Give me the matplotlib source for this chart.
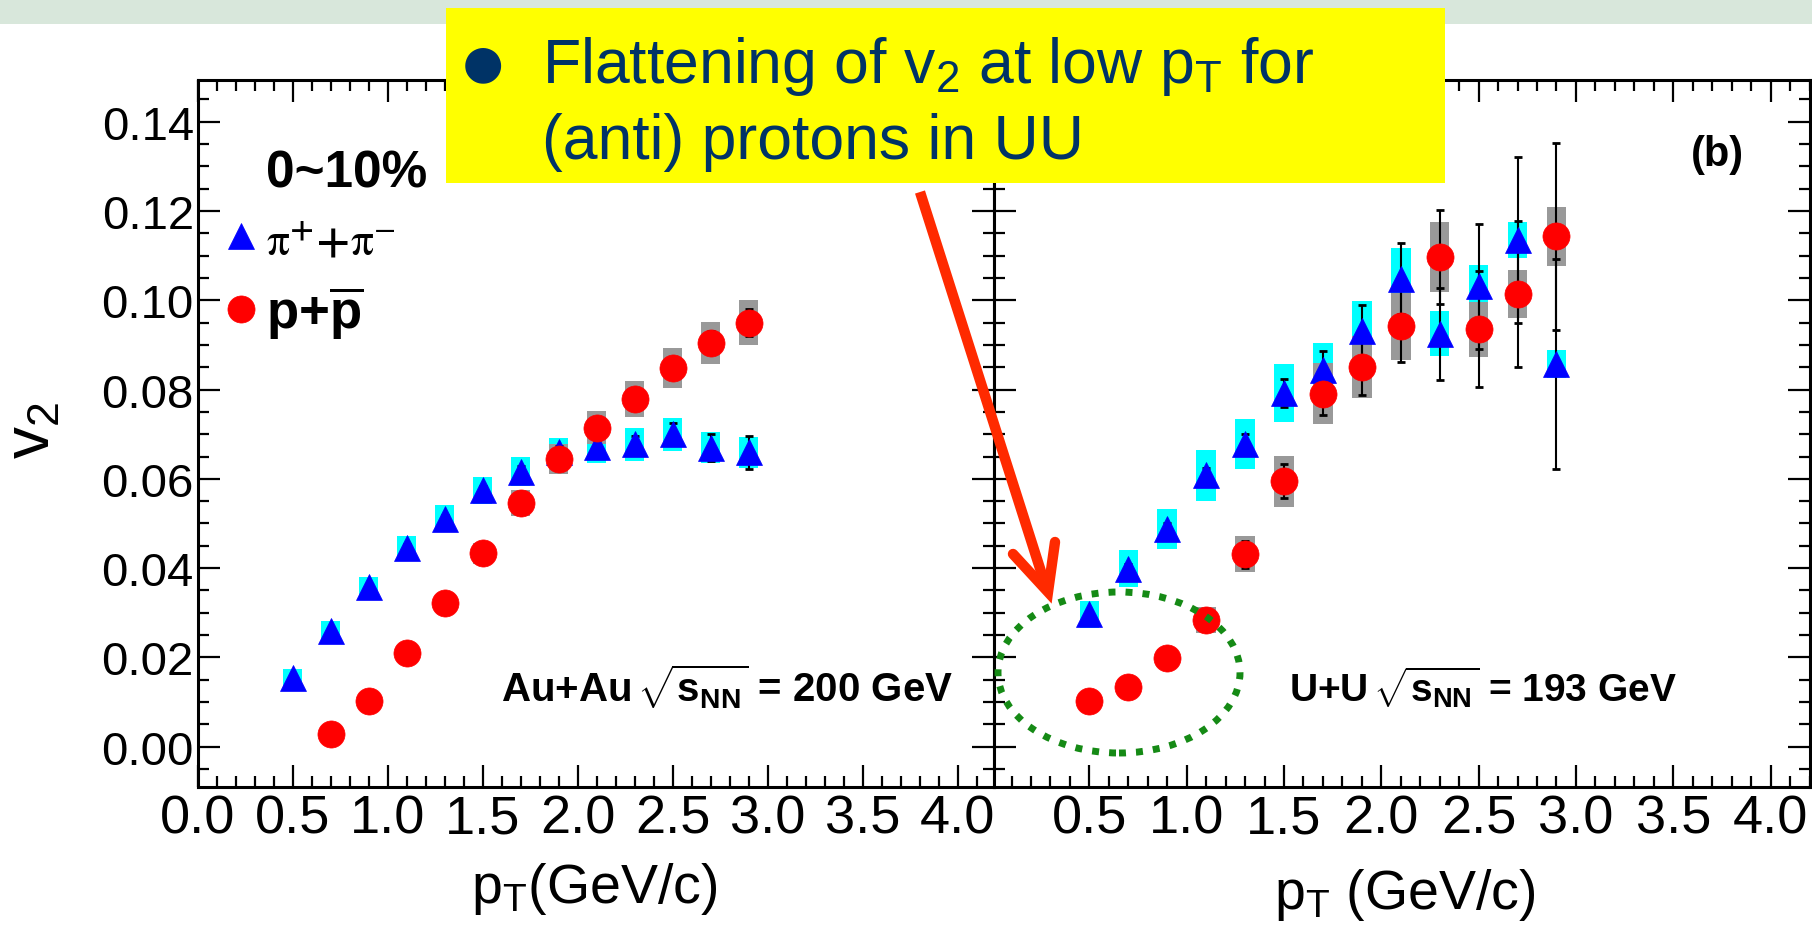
import matplotlib
matplotlib.use('Agg')
import matplotlib.pyplot as plt
from matplotlib.patches import Rectangle, Ellipse
from matplotlib.lines import Line2D
from matplotlib.ticker import MultipleLocator

# ---------------- data ----------------
# Au+Au 200 GeV, 0-10%
pt_au_pi = [0.5, 0.7, 0.9, 1.1, 1.3, 1.5, 1.7, 1.9, 2.1, 2.3, 2.5, 2.7, 2.9]
v2_au_pi = [0.0154, 0.0260, 0.0357, 0.0446, 0.0511, 0.0574, 0.0616, 0.0660, 0.0671, 0.0677, 0.0700, 0.0670, 0.0659]
stat_au_pi = [0.0005, 0.0006, 0.0007, 0.0008, 0.0009, 0.0010, 0.0012, 0.0014, 0.0017, 0.0020, 0.0024, 0.0030, 0.0037]
sys_au_pi = [0.0020, 0.0022, 0.0024, 0.0027, 0.0030, 0.0030, 0.0033, 0.0032, 0.0035, 0.0036, 0.0037, 0.0035, 0.0035]

pt_au_p = [0.7, 0.9, 1.1, 1.3, 1.5, 1.7, 1.9, 2.1, 2.3, 2.5, 2.7, 2.9]
v2_au_p = [0.0028, 0.0103, 0.0209, 0.0323, 0.0433, 0.0545, 0.0644, 0.0714, 0.0779, 0.0848, 0.0905, 0.0950]
stat_au_p = [0.0004, 0.0005, 0.0006, 0.0007, 0.0008, 0.0010, 0.0012, 0.0015, 0.0018, 0.0022, 0.0026, 0.0030]
sys_au_p = [0.0008, 0.0010, 0.0013, 0.0018, 0.0023, 0.0029, 0.0033, 0.0037, 0.0041, 0.0045, 0.0047, 0.0050]

# U+U 193 GeV, 0-10%
pt_uu_pi = [0.5, 0.7, 0.9, 1.1, 1.3, 1.5, 1.7, 1.9, 2.1, 2.3, 2.5, 2.7, 2.9]
v2_uu_pi = [0.0297, 0.0399, 0.0487, 0.0608, 0.0678, 0.0792, 0.0844, 0.0932, 0.1048, 0.0925, 0.1031, 0.1135, 0.0857]
stat_uu_pi = [0.0008, 0.0010, 0.0013, 0.0017, 0.0022, 0.0032, 0.0043, 0.0057, 0.0080, 0.0103, 0.0140, 0.0185, 0.0235]
sys_uu_pi = [0.0030, 0.0041, 0.0045, 0.0057, 0.0057, 0.0065, 0.0061, 0.0066, 0.0069, 0.0050, 0.0048, 0.0041, 0.0031]

pt_uu_p = [0.5, 0.7, 0.9, 1.1, 1.3, 1.5, 1.7, 1.9, 2.1, 2.3, 2.5, 2.7, 2.9]
v2_uu_p = [0.0102, 0.0135, 0.0199, 0.0284, 0.0431, 0.0595, 0.0791, 0.0850, 0.0942, 0.1097, 0.0935, 0.1014, 0.1143]
stat_uu_p = [0.0008, 0.0010, 0.0013, 0.0018, 0.0030, 0.0038, 0.0048, 0.0063, 0.0081, 0.0105, 0.0130, 0.0163, 0.0210]
sys_uu_p = [0.0012, 0.0015, 0.0020, 0.0030, 0.0040, 0.0057, 0.0068, 0.0070, 0.0075, 0.0078, 0.0062, 0.0053, 0.0066]

xtick_vals = [0.0, 0.5, 1.0, 1.5, 2.0, 2.5, 3.0, 3.5, 4.0]
xtick_labels = ['0.0', '0.5', '1.0', '1.5', '2.0', '2.5', '3.0', '3.5', '4.0']
ytick_vals = [0.00, 0.02, 0.04, 0.06, 0.08, 0.10, 0.12, 0.14]
ytick_labels = ['0.00', '0.02', '0.04', '0.06', '0.08', '0.10', '0.12', '0.14']

label_pi = r'$\mathrm{\pi}^{\mathbf{+}}\mathbf{+}\mathrm{\pi}^{-}$'
label_p = r'p+$\mathbf{\overline{p}}$'
centrality = '0~10%'
sys_au = r'Au+Au$\,\mathbf{\sqrt{s_{NN}}}$ = 200 GeV'
sys_uu = r'U+U$\,\mathbf{\sqrt{s_{NN}}}$ = 193 GeV'
note_line1 = r'Flattening of $\mathregular{v_2}$ at low $\mathregular{p_T}$ for'
note_line2 = '(anti) protons in UU'

# ---------------- style ----------------
plt.rcParams['font.family'] = ['Liberation Sans', 'DejaVu Sans']
plt.rcParams['mathtext.fontset'] = 'custom'
plt.rcParams['mathtext.rm'] = 'Liberation Sans'
plt.rcParams['mathtext.it'] = 'Liberation Sans'
plt.rcParams['mathtext.bf'] = 'Liberation Sans:bold'

W, H = 1812, 929
fig = plt.figure(figsize=(W / 100, H / 100), dpi=100)
fig.patch.set_facecolor('white')


def fx(x):
    return x / W


def fy(y):
    return 1 - y / H


axL = fig.add_axes([fx(198), fy(788), (994 - 198) / W, (788 - 81) / H])
axR = fig.add_axes([fx(994), fy(788), (1809.5 - 994) / W, (788 - 81) / H])

CYAN = '#00FFFF'
GRAY = '#999999'
BLUE = '#0000FF'
RED = '#FF0000'


def draw(ax, pt_pi, v_pi, st_pi, sy_pi, pt_p, v_p, st_p, sy_p):
    ax.bar(pt_pi, [2 * s for s in sy_pi], bottom=[v - s for v, s in zip(v_pi, sy_pi)],
           width=0.1, color=CYAN, edgecolor='none', zorder=2)
    ax.bar(pt_p, [2 * s for s in sy_p], bottom=[v - s for v, s in zip(v_p, sy_p)],
           width=0.1, color=GRAY, edgecolor='none', zorder=2.1)
    ax.errorbar(pt_pi, v_pi, yerr=st_pi, fmt='none', ecolor='black', elinewidth=1.5,
                capsize=3, capthick=2, zorder=3)
    ax.errorbar(pt_p, v_p, yerr=st_p, fmt='none', ecolor='black', elinewidth=1.5,
                capsize=3, capthick=2, zorder=3)
    h1, = ax.plot(pt_pi, v_pi, ls='none', marker='^', ms=18.5, color=BLUE, mec=BLUE,
                  mew=0.5, zorder=5)
    h2, = ax.plot(pt_p, v_p, ls='none', marker='o', ms=19.5, color=RED, mec=RED,
                  mew=0.5, zorder=6)
    return h1, h2


hpi, hp = draw(axL, pt_au_pi, v2_au_pi, stat_au_pi, sys_au_pi,
               pt_au_p, v2_au_p, stat_au_p, sys_au_p)
draw(axR, pt_uu_pi, v2_uu_pi, stat_uu_pi, sys_uu_pi,
     pt_uu_p, v2_uu_p, stat_uu_p, sys_uu_p)

for ax in (axL, axR):
    ax.set_xticks(xtick_vals, labels=xtick_labels, fontsize=39)
    ax.set_yticks(ytick_vals, labels=ytick_labels, fontsize=34)
    ax.xaxis.set_minor_locator(MultipleLocator(0.1))
    ax.yaxis.set_minor_locator(MultipleLocator(0.005))
    ax.tick_params(which='both', direction='in', top=True, right=True, width=1.6)
    ax.tick_params(which='major', length=16)
    ax.tick_params(which='minor', length=8)
    ax.tick_params(axis='x', pad=5)
    ax.tick_params(axis='y', pad=3)
    for s in ax.spines.values():
        s.set_linewidth(2.2)
    ax.set_ylim(-0.009, 0.1493)
axL.set_xlim(0.0, 4.19)
axR.set_xlim(0.01, 4.2)
axR.tick_params(labelleft=False)

axL.set_xlabel(r'$\mathregular{p_T}$(GeV/c)', fontsize=40)
axL.xaxis.set_label_coords(0.4975, -0.103)
axR.set_xlabel(r'$\mathregular{p_T}$ (GeV/c)', fontsize=40)
axR.xaxis.set_label_coords(0.504, -0.112)
axL.set_ylabel(r'$\mathregular{v_2}$', fontsize=46)
axL.yaxis.set_label_coords(-0.17, 0.506)

# legend
leg = axL.legend([hpi, hp], [label_pi, label_p], loc='upper left',
                 bbox_to_anchor=(0.0374, 0.805), borderaxespad=0, borderpad=0,
                 frameon=False, handlelength=0.5, handletextpad=0.22,
                 labelspacing=0.35, fontsize=38)
leg.get_texts()[0].set_math_fontfamily('stix')
leg.get_texts()[0].set_fontsize(33)
leg.get_texts()[1].set_fontweight('bold')
axL.text(0.0854, 0.850, centrality, transform=axL.transAxes, fontsize=37,
         fontweight='bold', ha='left', va='baseline')

axL.text(0.948, 0.1216, sys_au, transform=axL.transAxes, fontsize=29,
         fontweight='bold', ha='right', va='baseline')
axR.text(0.837, 0.1216, sys_uu, transform=axR.transAxes, fontsize=28,
         fontweight='bold', ha='right', va='baseline')
axR.text(0.887, 0.895, '(b)', transform=axR.transAxes, fontsize=30,
         fontweight='bold', ha='center', va='center')

# ---------------- slide decorations ----------------
fig.add_artist(Rectangle((0, fy(25)), 1, 25 / H, transform=fig.transFigure,
                         facecolor='#D8E7DB', edgecolor='none', zorder=0))
fig.add_artist(Rectangle((fx(446), fy(184)), (1445 - 446) / W, (184 - 9) / H,
                         transform=fig.transFigure, facecolor='#FFFF00',
                         edgecolor='none', zorder=10))
NAVY = '#003366'
fig.text(fx(483), fy(66), '\u25CF', ha='center', va='center', fontsize=60,
         color=NAVY, zorder=11)
fig.text(fx(542), fy(83), note_line1, ha='left', va='baseline', fontsize=45,
         color=NAVY, zorder=11)
fig.text(fx(542), fy(159), note_line2, ha='left', va='baseline', fontsize=45,
         color=NAVY, zorder=11)

ARROW = '#FF2A00'
fig.add_artist(Line2D([fx(920), fx(1044)], [fy(193), fy(582)], transform=fig.transFigure,
                      color=ARROW, lw=7.5, solid_capstyle='butt', zorder=12))
fig.add_artist(Line2D([fx(1013), fx(1048), fx(1055)], [fy(555), fy(593), fy(543)],
                      transform=fig.transFigure, color=ARROW, lw=7.5,
                      solid_capstyle='round', solid_joinstyle='miter', zorder=12))

fig.add_artist(Ellipse((fx(1119), fy(673.5)), 242 / W, 161 / H, transform=fig.transFigure,
                       fill=False, edgecolor='#158A15', lw=5, linestyle=(0, (1.0, 1.45)),
                       zorder=12))

fig.savefig('out.png', dpi=100)
